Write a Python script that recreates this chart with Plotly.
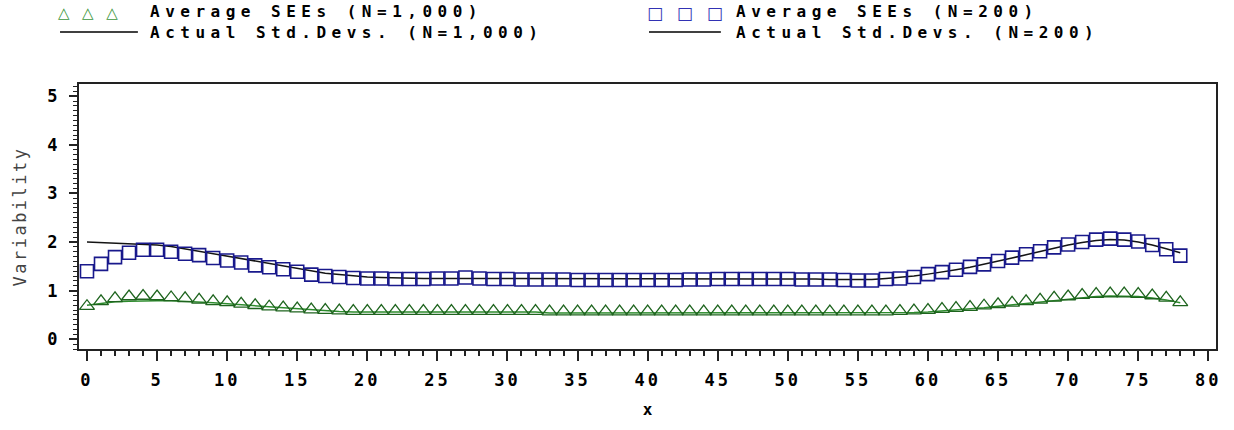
import plotly.graph_objects as go

# ---------------- data ----------------
x_vals = list(range(79))

see_1000 = [0.68, 0.78, 0.84, 0.88, 0.89, 0.88, 0.86, 0.84, 0.81, 0.78,
            0.76, 0.73, 0.70, 0.67, 0.65, 0.63, 0.61, 0.60, 0.59, 0.58,
            0.58, 0.58, 0.58, 0.58, 0.58, 0.58, 0.58, 0.58, 0.58, 0.58,
            0.58, 0.58, 0.58, 0.57, 0.57, 0.57, 0.57, 0.57, 0.57, 0.57,
            0.57, 0.57, 0.57, 0.57, 0.57, 0.57, 0.57, 0.57, 0.57, 0.57,
            0.57, 0.57, 0.57, 0.57, 0.57, 0.57, 0.57, 0.57, 0.58, 0.59,
            0.60, 0.62, 0.64, 0.66, 0.69, 0.72, 0.75, 0.78, 0.81, 0.85,
            0.88, 0.91, 0.93, 0.94, 0.94, 0.93, 0.90, 0.85, 0.76]

sd_1000 = [0.70, 0.74, 0.77, 0.78, 0.79, 0.79, 0.79, 0.78, 0.77, 0.75,
           0.73, 0.71, 0.69, 0.67, 0.64, 0.62, 0.60, 0.58, 0.57, 0.56,
           0.56, 0.56, 0.56, 0.56, 0.56, 0.56, 0.56, 0.56, 0.56, 0.56,
           0.56, 0.56, 0.56, 0.54, 0.54, 0.54, 0.54, 0.54, 0.54, 0.54,
           0.54, 0.54, 0.54, 0.54, 0.54, 0.54, 0.54, 0.54, 0.54, 0.54,
           0.54, 0.54, 0.54, 0.54, 0.54, 0.54, 0.54, 0.54, 0.55, 0.55,
           0.56, 0.58, 0.60, 0.62, 0.65, 0.68, 0.71, 0.74, 0.77, 0.80,
           0.83, 0.86, 0.88, 0.89, 0.89, 0.88, 0.85, 0.81, 0.75]

see_200 = [1.40, 1.55, 1.69, 1.78, 1.84, 1.84, 1.80, 1.76, 1.73, 1.67,
           1.62, 1.58, 1.52, 1.48, 1.44, 1.39, 1.33, 1.30, 1.28, 1.26,
           1.25, 1.25, 1.24, 1.24, 1.24, 1.25, 1.25, 1.27, 1.25, 1.24,
           1.24, 1.23, 1.23, 1.23, 1.23, 1.22, 1.22, 1.22, 1.22, 1.22,
           1.22, 1.22, 1.22, 1.23, 1.23, 1.24, 1.24, 1.24, 1.24, 1.24,
           1.24, 1.23, 1.23, 1.23, 1.22, 1.21, 1.21, 1.24, 1.25, 1.28,
           1.34, 1.38, 1.43, 1.49, 1.54, 1.61, 1.68, 1.75, 1.81, 1.89,
           1.95, 2.00, 2.05, 2.07, 2.05, 2.01, 1.94, 1.85, 1.72]

sd_200 = [2.00, 1.99, 1.98, 1.97, 1.96, 1.94, 1.91, 1.86, 1.81, 1.75,
          1.70, 1.65, 1.60, 1.55, 1.50, 1.45, 1.40, 1.36, 1.33, 1.30,
          1.28, 1.27, 1.26, 1.26, 1.25, 1.25, 1.25, 1.25, 1.25, 1.25,
          1.24, 1.24, 1.24, 1.24, 1.24, 1.24, 1.24, 1.24, 1.24, 1.24,
          1.24, 1.24, 1.24, 1.24, 1.24, 1.24, 1.24, 1.24, 1.24, 1.24,
          1.24, 1.24, 1.24, 1.23, 1.23, 1.23, 1.23, 1.25, 1.27, 1.30,
          1.34, 1.38, 1.43, 1.48, 1.54, 1.60, 1.67, 1.74, 1.81, 1.88,
          1.94, 1.99, 2.03, 2.05, 2.04, 2.00, 1.94, 1.86, 1.78]

x_ticks = list(range(0, 81, 5))
y_ticks = [0, 1, 2, 3, 4, 5]

legend_labels = ["Average SEEs (N=1,000)", "Actual Std.Devs. (N=1,000)",
                 "Average SEEs (N=200)", "Actual Std.Devs. (N=200)"]

# ---------------- styles ----------------
GREEN_LINE = "rgb(45,140,45)"
GREEN_MK = "rgb(30,100,30)"
BLUE_MK = "rgb(25,25,140)"
FONT_BOLD = "DejaVu Sans Mono"


def spaced(s, sp=3):
    return f'<span style="letter-spacing:{sp}px">{s}</span>'


fig = go.Figure()
fig.add_trace(go.Scatter(x=x_vals, y=sd_1000, mode="lines",
                         line=dict(color=GREEN_LINE, width=1.5), showlegend=False))
fig.add_trace(go.Scatter(x=x_vals, y=see_1000, mode="markers",
                         marker=dict(symbol="triangle-up-open", size=13, color=GREEN_MK,
                                     line=dict(width=1.3, color=GREEN_MK)),
                         showlegend=False))
fig.add_trace(go.Scatter(x=x_vals, y=sd_200, mode="lines",
                         line=dict(color="rgb(20,20,20)", width=1.5), showlegend=False))
fig.add_trace(go.Scatter(x=x_vals, y=see_200, mode="markers",
                         marker=dict(symbol="square-open", size=13, color=BLUE_MK,
                                     line=dict(width=1.6, color=BLUE_MK)),
                         showlegend=False))

# plot-area geometry (pixels)
L, R, T, B = 79, 1218, 84, 349
W, H = 1234, 430


def px(xp):
    return (xp - L) / (R - L)


def py(yp):
    return (B - yp) / (B - T)


legend_font = dict(family=FONT_BOLD, size=16, color="black", weight="bold")
annotations = [
    dict(x=px(56), y=py(13), xref="paper", yref="paper", xanchor="left", yanchor="middle",
         text=spaced("△&nbsp;&nbsp;△&nbsp;&nbsp;△", 1), showarrow=False,
         font=dict(family="DejaVu Sans", size=15, color="rgb(60,150,60)")),
    dict(x=px(646), y=py(13), xref="paper", yref="paper", xanchor="left", yanchor="middle",
         text=spaced("□&nbsp;&nbsp;□&nbsp;&nbsp;□", 1), showarrow=False,
         font=dict(family="DejaVu Sans", size=17, color="rgb(50,50,180)")),
    dict(x=px(148), y=py(22.5), xref="paper", yref="paper", xanchor="left", yanchor="middle",
         align="left",
         text=spaced(legend_labels[0], 5.5) + "<br>" + spaced(legend_labels[1], 5.5),
         showarrow=False, font=legend_font),
    dict(x=px(735), y=py(22.5), xref="paper", yref="paper", xanchor="left", yanchor="middle",
         align="left",
         text=spaced(legend_labels[2], 5.5) + "<br>" + spaced(legend_labels[3], 5.5),
         showarrow=False, font=legend_font),
]
shapes = [
    dict(type="line", xref="paper", yref="paper", x0=px(60), x1=px(138), y0=py(32), y1=py(32),
         line=dict(color="black", width=1.5)),
    dict(type="line", xref="paper", yref="paper", x0=px(650), x1=px(722), y0=py(32), y1=py(32),
         line=dict(color="black", width=1.5)),
]

tick_font = dict(family=FONT_BOLD, size=17, color="black", weight="bold")

fig.update_layout(
    width=W, height=H,
    margin=dict(l=L, r=W - R, t=T, b=H - B),
    plot_bgcolor="white", paper_bgcolor="white",
    annotations=annotations, shapes=shapes,
    showlegend=False,
    xaxis=dict(range=[-0.57, 80.55], tickmode="array", tickvals=x_ticks,
               ticktext=[spaced(str(v), 3) for v in x_ticks],
               ticks="outside", ticklen=10, tickwidth=2, tickcolor="#222",
               minor=dict(dtick=1, ticks="outside", ticklen=5, tickwidth=1.5, tickcolor="#222"),
               showline=True, linecolor="#222", linewidth=2, mirror=True,
               showgrid=False, zeroline=False, tickfont=tick_font, ticklabelstandoff=5,
               title=dict(text="x", font=dict(family=FONT_BOLD, size=16, color="black", weight="bold"),
                          standoff=14)),
    yaxis=dict(range=[-0.2, 5.25], tickmode="array", tickvals=y_ticks,
               ticktext=[str(v) for v in y_ticks],
               ticks="outside", ticklen=8, tickwidth=2, tickcolor="#222",
               minor=dict(dtick=0.1, ticks="outside", ticklen=4, tickwidth=1, tickcolor="#222"),
               showline=True, linecolor="#222", linewidth=2, mirror=True,
               showgrid=False, zeroline=False, tickfont=tick_font, ticklabelstandoff=8,
               title=dict(text=spaced("Variability", 2.5),
                          font=dict(family="DejaVu Sans Mono", size=17, color="#444"),
                          standoff=16)),
)

fig.write_html("out.html")
